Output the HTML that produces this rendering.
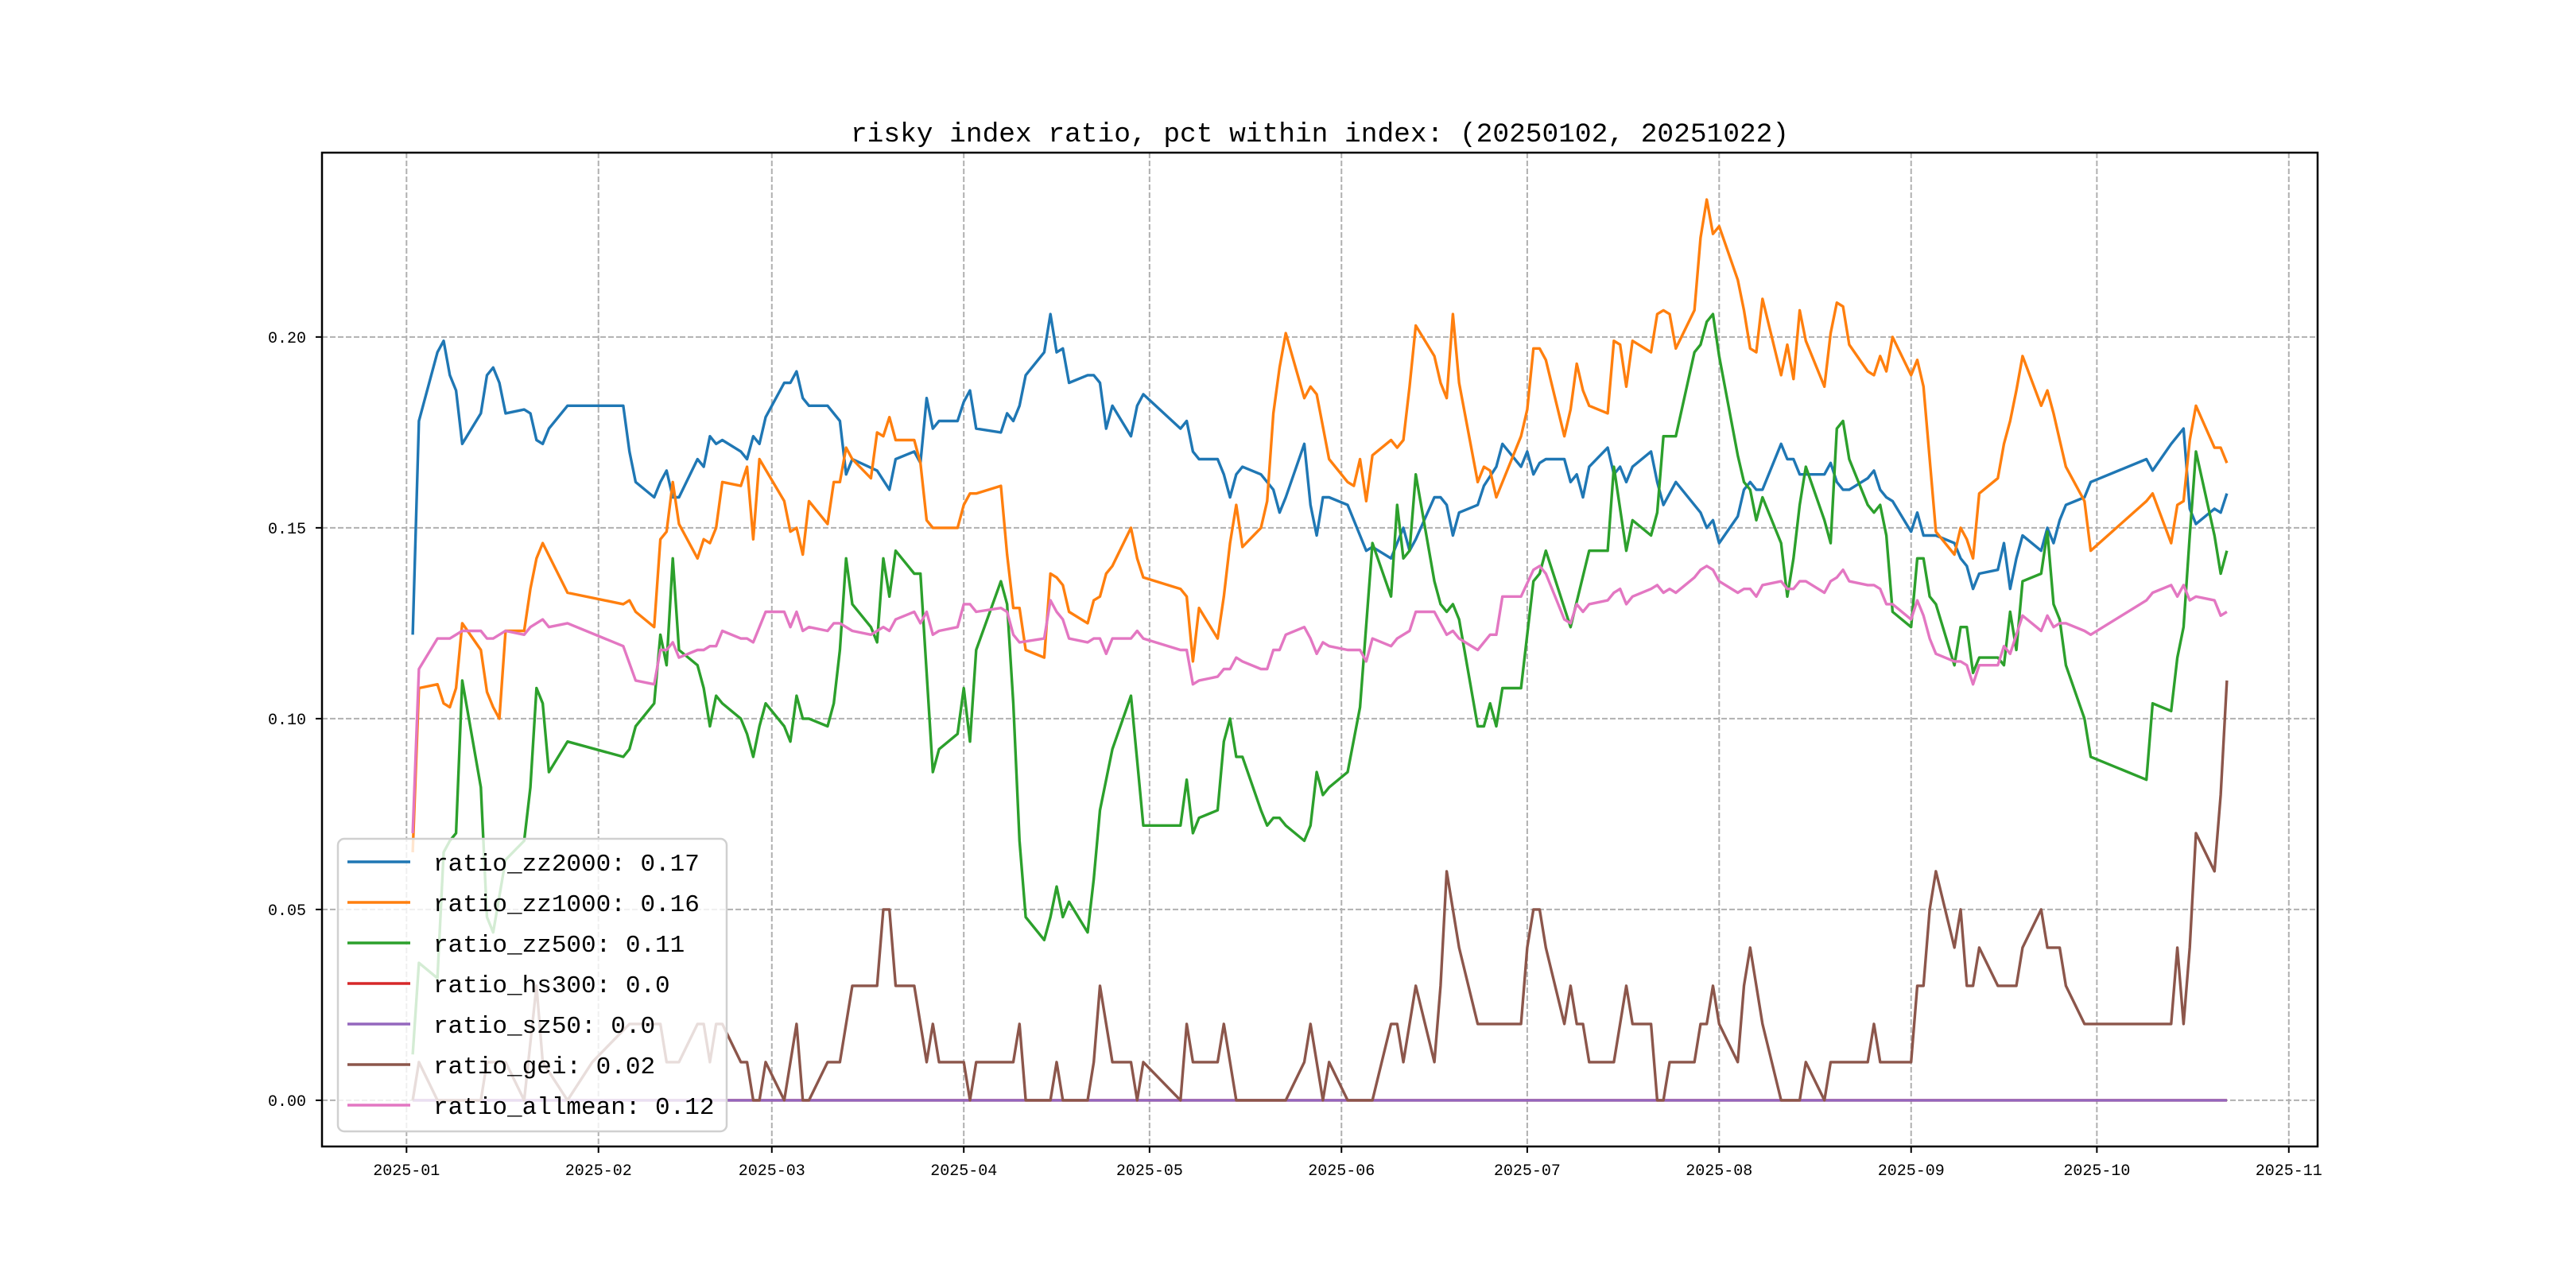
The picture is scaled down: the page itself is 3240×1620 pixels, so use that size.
<!DOCTYPE html>
<html><head><meta charset="utf-8"><title>risky index ratio</title>
<style>
html,body{margin:0;padding:0;background:#fff;}
svg{display:block;}
</style></head>
<body>
<svg id="chart" width="3240" height="1620" viewBox="0 0 3240 1620" xmlns="http://www.w3.org/2000/svg">
<rect x="0" y="0" width="3240" height="1620" fill="#fff"/>
<text x="1660" y="178" text-anchor="middle" font-family="Liberation Mono, monospace" font-size="34.5">risky index ratio, pct within index: (20250102, 20251022)</text>
<g id="grid"></g>
<g id="plot"></g>
<g id="axes"></g>
<g id="legend"></g>
</svg>
<script>
// x = day offset from 2025-01-01
const monthTickDays = [0,31,59,90,120,151,181,212,243,273,304];
const monthTickLabels = ["2025-01","2025-02","2025-03","2025-04","2025-05","2025-06","2025-07","2025-08","2025-09","2025-10","2025-11"];
const yTickValues = [0,0.05,0.10,0.15,0.20];
const yTickLabels = ["0.00","0.05","0.10","0.15","0.20"];
const seriesNames = ["ratio_zz2000","ratio_zz1000","ratio_zz500","ratio_hs300","ratio_sz50","ratio_gei","ratio_allmean"];
const seriesLastLabels = ["0.17","0.16","0.11","0.0","0.0","0.02","0.12"];

const zz2000Days = [1,2,5,6,7,8,9,12,13,14,15,16,19,20,21,22,23,26,35,36,37,40,41,42,43,44,47,48,49,50,51,54,55,56,57,58,61,62,63,64,65,68,70,71,72,76,78,79,82,83,84,85,86,89,90,91,92,96,97,98,99,100,103,104,105,106,107,110,111,112,113,114,117,118,119,125,126,127,128,131,132,133,134,135,138,140,141,142,145,146,147,148,149,152,154,155,156,159,160,161,162,163,166,167,168,169,170,173,174,176,177,180,181,182,183,184,187,188,189,190,191,194,195,196,197,198,201,202,203,205,209,210,211,212,215,216,217,218,219,222,223,224,225,229,230,231,232,233,236,237,238,239,240,243,244,245,247,250,251,252,253,254,257,258,259,260,261,264,265,266,267,268,271,272,281,282,285,287,288,289,292,293,294];
const zz2000Vals = [0.122,0.178,0.196,0.199,0.190,0.186,0.172,0.180,0.190,0.192,0.188,0.180,0.181,0.180,0.173,0.172,0.176,0.182,0.182,0.170,0.162,0.158,0.162,0.165,0.158,0.158,0.168,0.166,0.174,0.172,0.173,0.170,0.168,0.174,0.172,0.179,0.188,0.188,0.191,0.184,0.182,0.182,0.178,0.164,0.168,0.165,0.160,0.168,0.170,0.167,0.184,0.176,0.178,0.178,0.183,0.186,0.176,0.175,0.180,0.178,0.182,0.190,0.196,0.206,0.196,0.197,0.188,0.190,0.190,0.188,0.176,0.182,0.174,0.182,0.185,0.176,0.178,0.170,0.168,0.168,0.164,0.158,0.164,0.166,0.164,0.160,0.154,0.158,0.172,0.156,0.148,0.158,0.158,0.156,0.148,0.144,0.145,0.142,0.146,0.150,0.144,0.147,0.158,0.158,0.156,0.148,0.154,0.156,0.161,0.166,0.172,0.166,0.170,0.164,0.167,0.168,0.168,0.162,0.164,0.158,0.166,0.171,0.164,0.166,0.162,0.166,0.170,0.162,0.156,0.162,0.154,0.150,0.152,0.146,0.153,0.160,0.162,0.160,0.160,0.172,0.168,0.168,0.164,0.164,0.167,0.162,0.160,0.160,0.163,0.165,0.160,0.158,0.157,0.149,0.154,0.148,0.148,0.146,0.142,0.140,0.134,0.138,0.139,0.146,0.134,0.142,0.148,0.144,0.150,0.146,0.152,0.156,0.158,0.162,0.168,0.165,0.172,0.176,0.155,0.151,0.155,0.154,0.159];

const zz1000Days = [1,2,5,6,7,8,9,12,13,14,15,16,19,20,21,22,26,35,36,37,40,41,42,43,44,47,48,49,50,51,54,55,56,57,61,62,63,64,65,68,69,70,71,72,75,76,77,78,79,82,83,84,85,89,90,91,92,96,97,98,99,100,103,104,105,106,107,110,111,112,113,114,117,118,119,125,126,127,128,131,132,133,134,135,138,139,140,141,142,145,146,147,149,152,153,154,155,156,159,160,161,162,163,166,167,168,169,170,173,174,175,176,180,181,182,183,184,187,188,189,190,191,194,195,196,197,198,201,202,203,204,205,208,209,210,211,212,215,216,217,218,219,222,223,224,225,226,229,230,231,232,233,236,237,238,239,240,243,244,245,246,247,250,251,252,253,254,257,258,259,260,261,264,265,266,267,268,271,272,281,282,285,286,287,288,289,292,293,294];
const zz1000Vals = [0.065,0.108,0.109,0.104,0.103,0.108,0.125,0.118,0.107,0.103,0.100,0.123,0.123,0.134,0.142,0.146,0.133,0.130,0.131,0.128,0.124,0.147,0.149,0.162,0.151,0.142,0.147,0.146,0.150,0.162,0.161,0.166,0.147,0.168,0.157,0.149,0.150,0.143,0.157,0.151,0.162,0.162,0.171,0.168,0.163,0.175,0.174,0.179,0.173,0.173,0.167,0.152,0.150,0.150,0.156,0.159,0.159,0.161,0.143,0.129,0.129,0.118,0.116,0.138,0.137,0.135,0.128,0.125,0.131,0.132,0.138,0.140,0.150,0.142,0.137,0.134,0.132,0.115,0.129,0.121,0.132,0.146,0.156,0.145,0.150,0.157,0.180,0.192,0.201,0.184,0.187,0.185,0.168,0.162,0.161,0.168,0.157,0.169,0.173,0.171,0.173,0.187,0.203,0.195,0.188,0.184,0.206,0.188,0.162,0.166,0.165,0.158,0.174,0.181,0.197,0.197,0.194,0.174,0.181,0.193,0.186,0.182,0.180,0.199,0.198,0.187,0.199,0.196,0.206,0.207,0.206,0.197,0.207,0.226,0.236,0.227,0.229,0.215,0.207,0.197,0.196,0.210,0.190,0.198,0.189,0.207,0.199,0.187,0.201,0.209,0.208,0.198,0.191,0.190,0.195,0.191,0.200,0.190,0.194,0.187,0.168,0.149,0.143,0.150,0.147,0.142,0.159,0.163,0.172,0.178,0.186,0.195,0.182,0.186,0.180,0.173,0.166,0.157,0.144,0.157,0.159,0.146,0.156,0.157,0.173,0.182,0.171,0.171,0.167];

const zz500Days = [1,2,5,6,7,8,9,12,13,14,16,19,20,21,22,23,26,35,36,37,40,41,42,43,44,47,48,49,50,51,54,55,56,57,58,61,62,63,64,65,68,69,70,71,72,75,76,77,78,79,82,83,85,86,89,90,91,92,96,97,98,99,100,103,104,105,106,107,110,111,112,114,117,118,119,125,126,127,128,131,132,133,134,135,138,139,140,141,142,145,146,147,148,149,152,154,156,159,160,161,162,163,166,167,168,169,170,173,174,175,176,177,180,182,183,184,188,191,194,195,197,198,201,202,203,205,208,209,210,211,212,215,216,217,218,219,222,223,224,225,226,229,230,231,232,233,236,237,238,239,240,243,244,245,246,247,250,251,252,253,254,257,258,259,260,261,264,265,266,267,268,271,272,281,282,285,286,287,288,289,292,293,294];
const zz500Vals = [0.012,0.036,0.032,0.065,0.068,0.070,0.110,0.082,0.048,0.044,0.063,0.068,0.082,0.108,0.104,0.086,0.094,0.090,0.092,0.098,0.104,0.122,0.114,0.142,0.118,0.114,0.108,0.098,0.106,0.104,0.100,0.096,0.090,0.098,0.104,0.098,0.094,0.106,0.100,0.100,0.098,0.104,0.118,0.142,0.130,0.124,0.120,0.142,0.132,0.144,0.138,0.138,0.086,0.092,0.096,0.108,0.094,0.118,0.136,0.130,0.104,0.068,0.048,0.042,0.048,0.056,0.048,0.052,0.044,0.058,0.076,0.092,0.106,0.089,0.072,0.072,0.084,0.070,0.074,0.076,0.094,0.100,0.090,0.090,0.076,0.072,0.074,0.074,0.072,0.068,0.072,0.086,0.080,0.082,0.086,0.103,0.146,0.132,0.156,0.142,0.144,0.164,0.136,0.130,0.128,0.130,0.126,0.098,0.098,0.104,0.098,0.108,0.108,0.136,0.138,0.144,0.124,0.144,0.144,0.166,0.144,0.152,0.148,0.154,0.174,0.174,0.196,0.198,0.204,0.206,0.195,0.169,0.162,0.160,0.152,0.158,0.146,0.132,0.142,0.156,0.166,0.152,0.146,0.176,0.178,0.168,0.156,0.154,0.156,0.148,0.128,0.124,0.142,0.142,0.132,0.130,0.114,0.124,0.124,0.112,0.116,0.116,0.114,0.128,0.118,0.136,0.138,0.149,0.130,0.126,0.114,0.100,0.090,0.084,0.104,0.102,0.116,0.124,0.148,0.170,0.148,0.138,0.144];

const hs300Days = [1,294];
const hs300Vals = [0,0];
const sz50Days = [1,294];
const sz50Vals = [0,0];

const geiDays = [1,2,5,12,13,16,19,21,22,26,30,36,41,42,44,47,48,49,50,51,54,55,56,57,58,61,63,64,65,68,70,72,76,77,78,79,82,84,85,86,90,91,92,98,99,100,104,105,106,110,111,112,114,117,118,119,125,126,127,131,132,134,142,145,146,148,149,152,156,159,160,161,163,166,167,168,170,173,180,181,182,183,184,187,188,189,190,191,195,197,198,201,202,203,204,208,209,210,211,212,215,216,217,219,222,225,226,229,230,236,237,238,243,244,245,246,247,250,251,252,253,254,257,260,261,264,265,267,268,271,285,286,287,288,289,292,293,294];
const geiVals = [0,0.01,0,0,0.01,0.01,0,0.03,0.01,0,0.01,0.02,0.02,0.01,0.01,0.02,0.02,0.01,0.02,0.02,0.01,0.01,0,0,0.01,0,0.02,0,0,0.01,0.01,0.03,0.03,0.05,0.05,0.03,0.03,0.01,0.02,0.01,0.01,0,0.01,0.01,0.02,0,0,0.01,0,0,0.01,0.03,0.01,0.01,0,0.01,0,0.02,0.01,0.01,0.02,0,0,0.01,0.02,0,0.01,0,0,0.02,0.02,0.01,0.03,0.01,0.03,0.06,0.04,0.02,0.02,0.04,0.05,0.05,0.04,0.02,0.03,0.02,0.02,0.01,0.01,0.03,0.02,0.02,0,0,0.01,0.01,0.02,0.02,0.03,0.02,0.01,0.03,0.04,0.02,0,0,0.01,0,0.01,0.01,0.02,0.01,0.01,0.03,0.03,0.05,0.06,0.04,0.05,0.03,0.03,0.04,0.03,0.03,0.04,0.05,0.04,0.04,0.03,0.02,0.02,0.04,0.02,0.04,0.07,0.06,0.08,0.11];

const allmeanDays = [1,2,5,7,9,12,13,14,16,19,20,22,23,26,35,37,40,41,42,43,44,47,48,49,50,51,54,55,56,57,58,61,62,63,64,65,68,69,70,72,75,76,77,78,79,82,83,84,85,86,89,90,91,92,96,97,98,99,103,104,105,106,107,110,111,112,113,114,117,118,119,125,126,127,128,131,132,133,134,135,138,139,140,141,142,145,146,147,148,149,152,154,155,156,159,160,162,163,166,168,169,170,173,175,176,177,180,182,183,184,187,188,189,190,191,194,195,196,197,198,201,202,203,204,205,208,209,210,211,212,215,216,217,218,219,222,223,224,225,226,229,230,231,232,233,236,237,238,239,240,243,244,245,246,247,250,251,252,253,254,257,258,259,260,261,264,265,266,267,268,271,272,281,282,285,286,287,288,289,292,293,294];
const allmeanVals = [0.070,0.113,0.121,0.121,0.123,0.123,0.121,0.121,0.123,0.122,0.124,0.126,0.124,0.125,0.119,0.110,0.109,0.118,0.118,0.120,0.116,0.118,0.118,0.119,0.119,0.123,0.121,0.121,0.120,0.124,0.128,0.128,0.124,0.128,0.123,0.124,0.123,0.125,0.125,0.123,0.122,0.123,0.124,0.123,0.126,0.128,0.125,0.128,0.122,0.123,0.124,0.130,0.130,0.128,0.129,0.128,0.122,0.120,0.121,0.131,0.128,0.126,0.121,0.120,0.121,0.121,0.117,0.121,0.121,0.123,0.121,0.118,0.118,0.109,0.110,0.111,0.113,0.113,0.116,0.115,0.113,0.113,0.118,0.118,0.122,0.124,0.121,0.117,0.120,0.119,0.118,0.118,0.115,0.121,0.119,0.121,0.123,0.128,0.128,0.122,0.123,0.121,0.118,0.122,0.122,0.132,0.132,0.139,0.140,0.138,0.126,0.125,0.130,0.128,0.130,0.131,0.133,0.134,0.130,0.132,0.134,0.135,0.133,0.134,0.133,0.137,0.139,0.140,0.139,0.136,0.133,0.134,0.134,0.132,0.135,0.136,0.134,0.134,0.136,0.136,0.133,0.136,0.137,0.139,0.136,0.135,0.135,0.134,0.130,0.130,0.126,0.131,0.127,0.121,0.117,0.115,0.115,0.114,0.109,0.114,0.114,0.119,0.117,0.122,0.127,0.123,0.127,0.124,0.125,0.125,0.123,0.122,0.131,0.133,0.135,0.132,0.135,0.131,0.132,0.131,0.127,0.128];

const NS = "http://www.w3.org/2000/svg";
const AX = {left:405, right:2915, top:192, bottom:1442};
const X_MIN = -13.65, X_MAX = 308.65;
const Y_MIN = -0.0121, Y_MAX = 0.2483;
function xScale(d){ return AX.left + (d - X_MIN) / (X_MAX - X_MIN) * (AX.right - AX.left); }
function yScale(v){ return AX.bottom - (v - Y_MIN) / (Y_MAX - Y_MIN) * (AX.bottom - AX.top); }
function mk(tag, attrs, parent){
  const el = document.createElementNS(NS, tag);
  for (const k in attrs) el.setAttribute(k, attrs[k]);
  parent.appendChild(el);
  return el;
}
const grid = document.getElementById('grid');
const plot = document.getElementById('plot');
const axes = document.getElementById('axes');
const legend = document.getElementById('legend');

// grid lines
monthTickDays.forEach(function(d){
  const x = xScale(d);
  const g = mk('line', {x1:x, x2:x, y1:AX.top, y2:AX.bottom, stroke:'#b0b0b0', 'stroke-width':2, 'stroke-dasharray':'7,3'}, grid);
  
  
});
yTickValues.forEach(function(v){
  const y = yScale(v);
  const g = mk('line', {x1:AX.left, x2:AX.right, y1:y, y2:y, stroke:'#b0b0b0', 'stroke-width':2, 'stroke-dasharray':'7,3'}, grid);
  
  
});

// series
const seriesDays = [zz2000Days, zz1000Days, zz500Days, hs300Days, sz50Days, geiDays, allmeanDays];
const seriesVals = [zz2000Vals, zz1000Vals, zz500Vals, hs300Vals, sz50Vals, geiVals, allmeanVals];
const colors = ['#1f77b4','#ff7f0e','#2ca02c','#d62728','#9467bd','#8c564b','#e377c2'];
for (let i = 0; i < seriesNames.length; i++){
  let d = '';
  for (let j = 0; j < seriesDays[i].length; j++){
    d += (j ? 'L' : 'M') + xScale(seriesDays[i][j]).toFixed(1) + ' ' + yScale(seriesVals[i][j]).toFixed(1);
  }
  const p = mk('path', {d:d, fill:'none', stroke:colors[i], 'stroke-width':3.4, 'stroke-linejoin':'round'}, plot);
  
  
}

// axes frame
const frame = mk('rect', {x:AX.left, y:AX.top, width:AX.right-AX.left, height:AX.bottom-AX.top, fill:'none', stroke:'#000', 'stroke-width':2.5}, axes);



monthTickDays.forEach(function(d, i){
  const x = xScale(d);
  const t = mk('line', {x1:x, x2:x, y1:AX.bottom, y2:AX.bottom+8, stroke:'#000', 'stroke-width':2}, axes);
  
  
  const lb = mk('text', {x:x, y:AX.bottom+36, 'text-anchor':'middle', 'font-family':'Liberation Mono, monospace', 'font-size':20}, axes);
  lb.textContent = monthTickLabels[i];
  
  
});
yTickValues.forEach(function(v, i){
  const y = yScale(v);
  const t = mk('line', {x1:AX.left-8, x2:AX.left, y1:y, y2:y, stroke:'#000', 'stroke-width':2}, axes);
  
  
  const lb = mk('text', {x:AX.left-20, y:y+7, 'text-anchor':'end', 'font-family':'Liberation Mono, monospace', 'font-size':20}, axes);
  lb.textContent = yTickLabels[i];
  
  
});

// legend
const box = mk('rect', {x:425, y:1055, width:489, height:368, rx:8, ry:8, fill:'rgba(255,255,255,0.8)', stroke:'#d0d0d0', 'stroke-width':2.5}, legend);


for (let i = 0; i < seriesNames.length; i++){
  const y = 1084 + i * 51;
  const g = mk('g', {}, legend);
  
  
  const ln = mk('line', {x1:437, x2:516, y1:y, y2:y, stroke:colors[i], 'stroke-width':3.4}, g);
  
  
  const tx = mk('text', {x:545, y:y+11, 'font-family':'Liberation Mono, monospace', 'font-size':31}, g);
  tx.textContent = seriesNames[i] + ': ' + seriesLastLabels[i];
  
  
}
</script>
</body></html>
